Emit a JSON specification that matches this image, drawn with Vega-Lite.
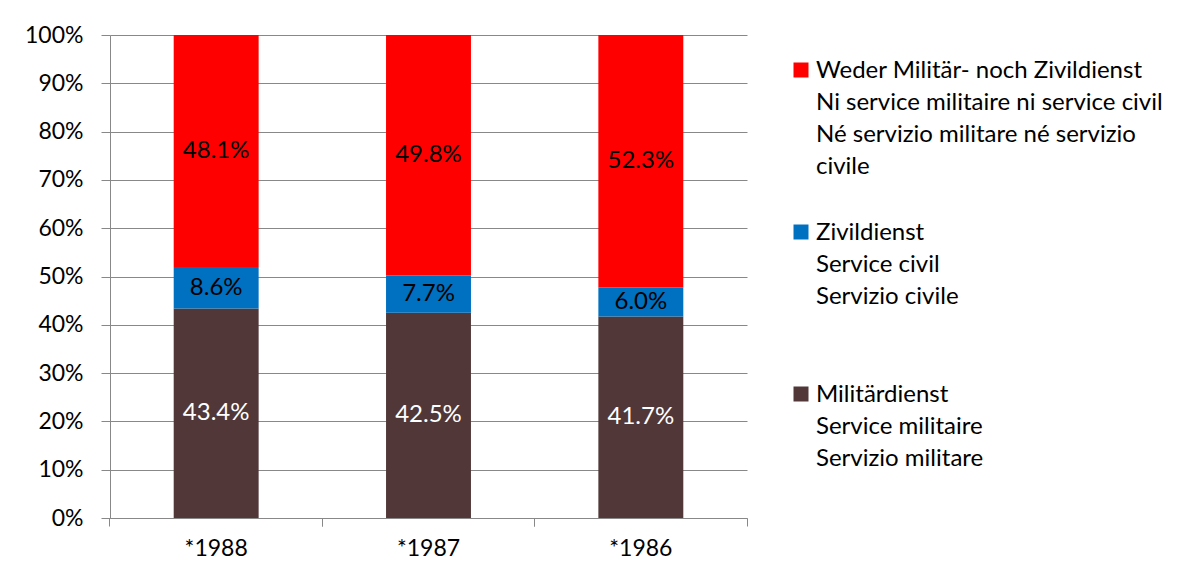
{
  "$schema": "https://vega.github.io/schema/vega-lite/v6.json",
  "width": 637,
  "height": 483,
  "autosize": {"type": "none"},
  "padding": {"left": 110, "top": 35, "right": 444, "bottom": 60},
  "background": "white",
  "config": {
    "view": {"stroke": null},
    "font": "Lato",
    "axis": {
      "labelFont": "Lato",
      "labelFontSize": 23,
      "labelColor": "#000000",
      "domainColor": "#888888",
      "tickColor": "#888888",
      "gridColor": "#888888",
      "title": null
    }
  },
  "data": {
    "values": [
      {"year": "*1988", "cat": "Militärdienst", "ord": 1, "value": 0.434},
      {"year": "*1988", "cat": "Zivildienst", "ord": 2, "value": 0.086},
      {"year": "*1988", "cat": "Weder Militär- noch Zivildienst", "ord": 3, "value": 0.481},
      {"year": "*1987", "cat": "Militärdienst", "ord": 1, "value": 0.425},
      {"year": "*1987", "cat": "Zivildienst", "ord": 2, "value": 0.077},
      {"year": "*1987", "cat": "Weder Militär- noch Zivildienst", "ord": 3, "value": 0.498},
      {"year": "*1986", "cat": "Militärdienst", "ord": 1, "value": 0.417},
      {"year": "*1986", "cat": "Zivildienst", "ord": 2, "value": 0.060},
      {"year": "*1986", "cat": "Weder Militär- noch Zivildienst", "ord": 3, "value": 0.523}
    ]
  },
  "encoding": {
    "x": {
      "field": "year",
      "type": "nominal",
      "sort": ["*1988", "*1987", "*1986"],
      "scale": {"paddingInner": 0.6, "paddingOuter": 0.3}
    }
  },
  "layer": [
    {
      "mark": {"type": "bar"},
      "encoding": {
        "x": {
          "field": "year",
          "type": "nominal",
          "sort": ["*1988", "*1987", "*1986"],
          "axis": {
            "orient": "bottom",
            "labelAngle": 0,
            "bandPosition": -0.75,
            "tickSize": 8,
            "labelPadding": 11,
            "labelBaseline": "top",
            "grid": false
          }
        },
        "y": {
          "field": "value",
          "type": "quantitative",
          "stack": "normalize",
          "scale": {"domain": [0, 1]},
          "axis": {
            "values": [0, 0.1, 0.2, 0.3, 0.4, 0.5, 0.6, 0.7, 0.8, 0.9, 1],
            "format": ".0%",
            "tickSize": 9,
            "labelPadding": 18,
            "grid": true
          }
        },
        "color": {
          "field": "cat",
          "type": "nominal",
          "scale": {
            "domain": ["Weder Militär- noch Zivildienst", "Zivildienst", "Militärdienst"],
            "range": ["#FF0000", "#0070C0", "#513738"]
          },
          "legend": {
            "title": null,
            "orient": "none",
            "legendX": 679,
            "legendY": 23,
            "padding": 0,
            "symbolType": "square",
            "symbolSize": 225,
            "symbolStrokeWidth": 0,
            "labelFont": "Lato",
            "labelFontSize": 24,
            "labelColor": "#000000",
            "labelLimit": 500,
            "labelOffset": 3,
            "labelBaseline": "alphabetic",
            "gridAlign": "all",
            "rowPadding": 41,
            "labelExpr": "datum.label == 'Zivildienst' ? ['Zivildienst', 'Service civil', 'Servizio civile'] : datum.label == 'Militärdienst' ? ['Militärdienst', 'Service militaire', 'Servizio militare'] : ['Weder Militär- noch Zivildienst', 'Ni service militaire ni service civil', 'Né servizio militare né servizio', 'civile']",
            "encode": {
              "labels": {"update": {"lineHeight": {"value": 32}, "dy": {"value": 8}}}
            }
          }
        },
        "order": {"field": "ord", "type": "quantitative"}
      }
    },
    {
      "mark": {"type": "text", "fontSize": 24, "font": "Lato"},
      "encoding": {
        "x": {
          "field": "year",
          "type": "nominal",
          "sort": ["*1988", "*1987", "*1986"],
          "axis": {
            "orient": "bottom",
            "labels": false,
            "domain": false,
            "bandPosition": 1.75,
            "tickSize": 8,
            "grid": false
          }
        },
        "y": {
          "field": "value",
          "type": "quantitative",
          "stack": "normalize",
          "bandPosition": 0.5
        },
        "text": {"field": "value", "type": "quantitative", "format": ".1%"},
        "color": {
          "condition": {"test": "datum.cat === 'Militärdienst'", "value": "#FFFFFF"},
          "value": "#000000"
        },
        "order": {"field": "ord", "type": "quantitative"}
      }
    }
  ],
  "resolve": {"axis": {"x": "independent"}}
}
